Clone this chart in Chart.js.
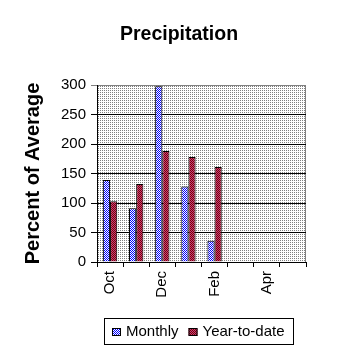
<!DOCTYPE html>
<html>
<head>
<meta charset="utf-8">
<script src="https://cdn.jsdelivr.net/npm/chart.js@4.4.0/dist/chart.umd.min.js"></script>
<style>
  html, body { margin: 0; padding: 0; background: #fff; }
</style>
</head>
<body>
<canvas id="chartArea" width="358" height="358"></canvas>
<script>
// data
const months = ['Oct', 'Nov', 'Dec', 'Jan', 'Feb', 'Mar', 'Apr', 'May'];
const monthly = [139, 91, 298, 128, 36, null, null, null];
const yearToDate = [103, 132, 188, 178, 161, null, null, null];
const yMin = 0;
const yMax = 300;
const yStep = 50;

const FONT = '"Liberation Sans", Arial, sans-serif';
Chart.defaults.font.family = FONT;
Chart.defaults.color = '#000';

const canvas = document.getElementById('chartArea');
const ctx = canvas.getContext('2d');

// small pixel tiles -> canvas patterns
function makePattern(w, pixels) {
  const c = document.createElement('canvas');
  const h = pixels.length / w;
  c.width = w;
  c.height = h;
  const g = c.getContext('2d');
  pixels.forEach((col, i) => {
    g.fillStyle = col;
    g.fillRect(i % w, Math.floor(i / w), 1, 1);
  });
  return ctx.createPattern(c, 'repeat');
}

const dotPattern = makePattern(2, ['#808080', '#fff', '#fff', '#fff']);
const bluePattern = makePattern(2, ['#0000ff', '#ffffff', '#ffffff', '#0000ff']);
const redPattern = makePattern(2, ['#800000', '#c04080', '#c04080', '#800000']);

const plotDecor = {
  id: 'plotDecor',
  afterLayout(chart) {
    // center the title on the whole canvas, not just the padded box
    if (chart.titleBlock) {
      chart.titleBlock.left = 0;
      chart.titleBlock.right = chart.width;
      chart.titleBlock.width = chart.width;
    }
  },
  beforeDraw(chart) {
    const a = chart.chartArea;
    const c = chart.ctx;
    c.save();
    c.fillStyle = dotPattern;
    c.fillRect(a.left, a.top, a.right - a.left, a.bottom - a.top);
    c.strokeStyle = '#808080';
    c.lineWidth = 1;
    c.beginPath();
    c.moveTo(Math.round(a.right) - 0.5, a.top);
    c.lineTo(Math.round(a.right) - 0.5, a.bottom);
    c.stroke();
    c.restore();
  },
  afterDraw(chart) {
    // boxed legend under the axis
    const a = chart.chartArea;
    const c = chart.ctx;
    c.save();
    c.font = '15px ' + FONT;
    const box = 9, gap = 5, itemGap = 10, pad = 8, boxH = 26;
    const items = chart.data.datasets.map(d => ({
      text: d.label,
      fill: d.backgroundColor,
      w: c.measureText(d.label).width
    }));
    let total = pad * 2;
    items.forEach((it, i) => { total += box + gap + it.w + (i ? itemGap : 0); });
    const left = Math.round((a.left + a.right) / 2 - 3 - total / 2);
    const top = Math.round(a.bottom + 56);
    c.strokeStyle = '#000';
    c.lineWidth = 1;
    c.strokeRect(left + 0.5, top + 0.5, Math.round(total), boxH);
    let x = left + pad;
    const midY = top + boxH / 2 + 1;
    c.textBaseline = 'middle';
    c.fillStyle = '#000';
    items.forEach((it, i) => {
      if (i) x += itemGap;
      c.fillStyle = it.fill;
      c.fillRect(x, midY - 4, box, 8);
      c.strokeRect(x + 0.5, midY - 4 + 0.5, box - 1, 7);
      x += box + gap;
      c.fillStyle = '#000';
      c.fillText(it.text, x, midY);
      x += it.w;
    });
    c.restore();
  }
};

new Chart(canvas, {
  type: 'bar',
  data: {
    labels: months,
    datasets: [
      {
        label: 'Monthly',
        data: monthly,
        backgroundColor: bluePattern,
        borderColor: '#000',
        borderWidth: 1,
        categoryPercentage: 0.55,
        barPercentage: 1
      },
      {
        label: 'Year-to-date',
        data: yearToDate,
        backgroundColor: redPattern,
        borderColor: '#000',
        borderWidth: 1,
        categoryPercentage: 0.55,
        barPercentage: 1
      }
    ]
  },
  options: {
    responsive: false,
    animation: false,
    layout: { padding: { left: 12, right: 52, top: 0, bottom: 46 } },
    scales: {
      x: {
        offset: true,
        afterFit(scale) { scale.height = 50; },
        grid: { offset: true, drawOnChartArea: false, drawTicks: true, tickLength: 5, color: '#000' },
        border: { color: '#000', width: 1 },
        ticks: {
          autoSkip: false,
          minRotation: 90,
          maxRotation: 90,
          padding: 4,
          font: { size: 15 },
          callback: (v, i) => (i % 2 === 0 ? months[i] : '')
        }
      },
      y: {
        min: yMin,
        max: yMax,
        afterFit(scale) { scale.width = 85; },
        grid: {
          color: c => (c.tick && c.tick.value === yMax ? '#808080' : '#000'),
          tickLength: 6
        },
        border: { color: '#000', width: 1 },
        ticks: { stepSize: yStep, padding: 5, font: { size: 15 } },
        title: {
          display: true,
          text: 'Percent of Average',
          font: { size: 20, weight: 'bold' },
          padding: { top: 9, bottom: 0 }
        }
      }
    },
    plugins: {
      legend: { display: false },
      tooltip: { enabled: false },
      title: {
        display: true,
        text: 'Precipitation',
        font: { size: 19.5, weight: 'bold' },
        padding: { top: 23, bottom: 38.6 }
      }
    }
  },
  plugins: [plotDecor]
});
</script>
</body>
</html>
